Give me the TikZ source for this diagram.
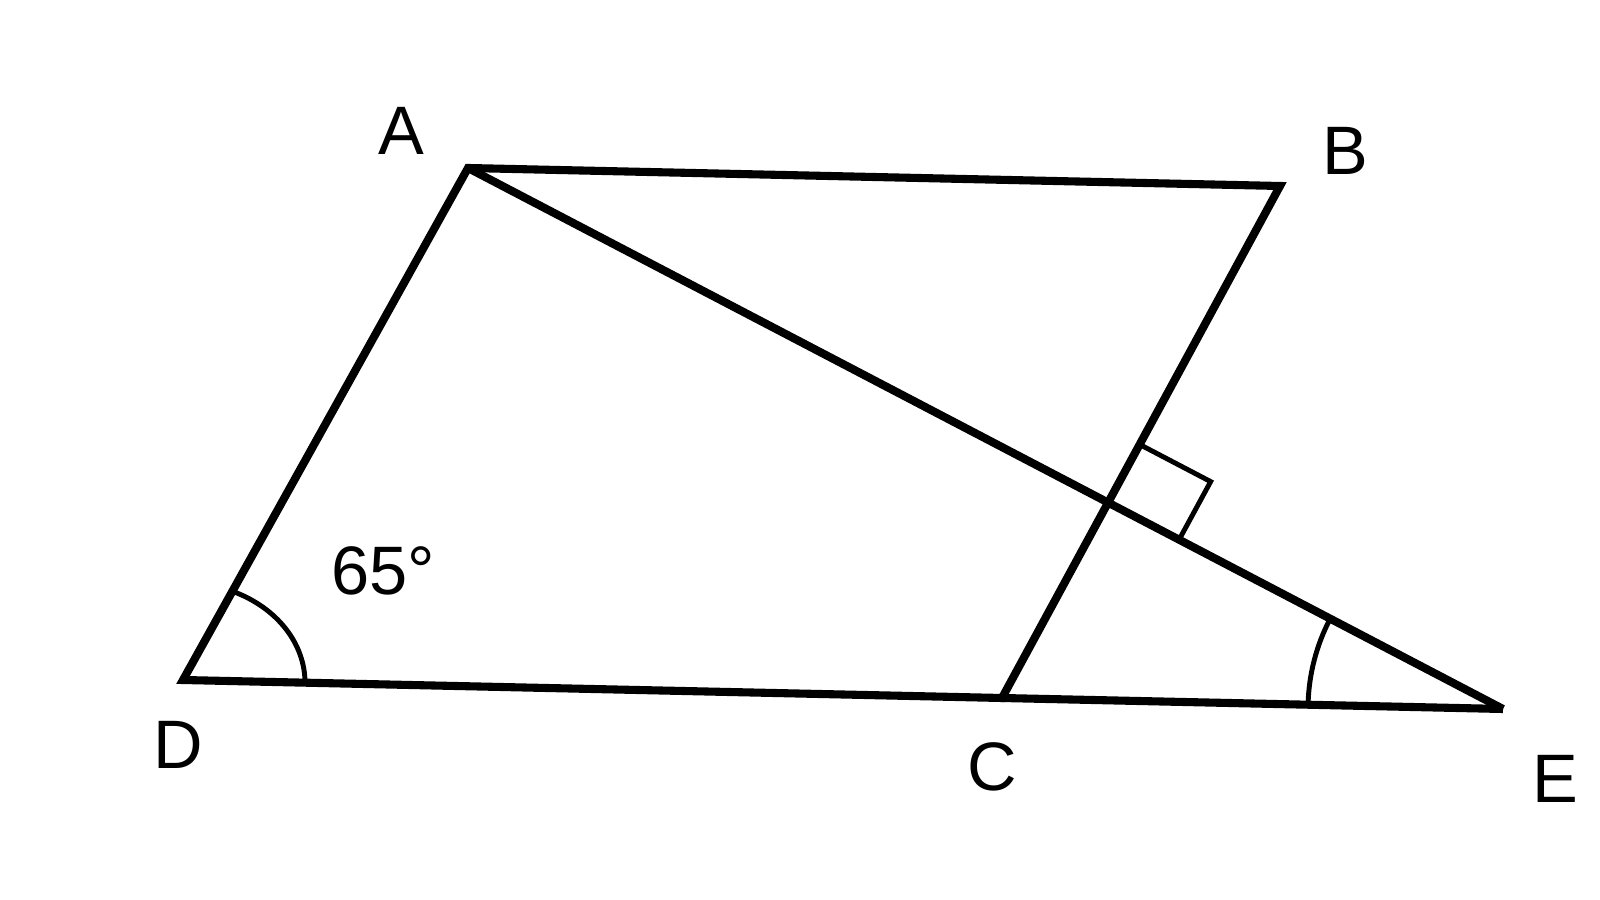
\documentclass[tikz,border=0pt]{standalone}
\usepackage{fontspec}
\setmainfont{Liberation Sans}
\usetikzlibrary{calc}
\begin{document}
\begin{tikzpicture}[x=0.01cm,y=0.01cm,
  edge/.style={line width=2.3pt,line join=miter},
  thinmark/.style={line width=1.4pt},
  lbl/.style={font=\fontsize{19.5}{22}\selectfont,inner sep=0pt}]
\useasboundingbox (0,0) rectangle (1600,900);
\fill[white] (0,0) rectangle (1600,900);
\coordinate (A) at (468,732);
\coordinate (B) at (1280,714);
\coordinate (C) at (1002,202);
\coordinate (D) at (183,220);
\coordinate (E) at (1503,191);
\draw[edge] (A) -- (B) -- (C) -- (D) -- cycle;
\draw[edge] (C) -- (E);
\draw[edge] (A) -- (E);
% right angle mark
\coordinate (F) at (intersection of A--E and B--C);
\coordinate (P1) at ($(F)!0.66cm!(B)$);
\coordinate (P3) at ($(F)!0.80cm!(E)$);
\coordinate (P2) at ($(P1)+(P3)-(F)$);
\draw[thinmark,line join=miter] (P1) -- (P2) -- (P3);
% angle arcs
\draw[thinmark] ($(D)+(122,-2.7)$) arc[start angle=0,end angle=65.5,x radius=122,y radius=100];
\draw[thinmark] ([shift={(178.7:195)}]E) arc[start angle=178.7,end angle=152.4,radius=195];
% labels
\node[lbl] (lA) at (401,769) {A};
\node[lbl] (lB) at (1345,749) {B};
\node[lbl] (lC) at (992,133) {C};
\node[lbl] (lD) at (178,155) {D};
\node[lbl] (lE) at (1555,121) {E};
\node[lbl] (ang) at (383,329) {65°};
\end{tikzpicture}
\end{document}
